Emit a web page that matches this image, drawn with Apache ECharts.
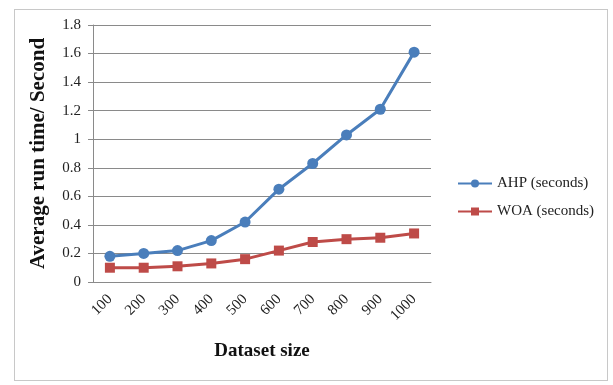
<!DOCTYPE html>
<html>
<head>
<meta charset="utf-8">
<script src="https://cdn.jsdelivr.net/npm/echarts@6/dist/echarts.min.js"></script>
<style>
  html, body { margin: 0; padding: 0; background: #fff; }
  #frame { position: absolute; left: 14px; top: 9px; width: 592px; height: 370px; border: 1px solid #c8c8c8; }
  #chart { width: 613px; height: 385px; }
</style>
</head>
<body>
<div id="frame"></div>
<div id="chart"></div>
<script>
// dataset sizes and run times
const sizes = ['100', '200', '300', '400', '500', '600', '700', '800', '900', '1000'];
const ahpSeconds = [0.18, 0.20, 0.22, 0.29, 0.42, 0.65, 0.83, 1.03, 1.21, 1.61];
const woaSeconds = [0.10, 0.10, 0.11, 0.13, 0.16, 0.22, 0.28, 0.30, 0.31, 0.34];

const chart = echarts.init(document.getElementById('chart'));
const serif = 'Liberation Serif';

chart.setOption({
  animation: false,
  grid: { left: 93, right: 182, top: 25, bottom: 103 },
  legend: {
    orient: 'vertical',
    left: 452,
    top: 171,
    itemGap: 13,
    itemWidth: 34,
    itemHeight: 10,
    textStyle: { fontFamily: serif, fontSize: 15, color: '#222' },
    data: ['AHP (seconds)', 'WOA (seconds)']
  },
  xAxis: {
    type: 'category',
    data: sizes,
    name: 'Dataset size',
    nameLocation: 'middle',
    nameGap: 60,
    nameTextStyle: { fontFamily: serif, fontSize: 19, fontWeight: 'bold', color: '#111' },
    axisLine: { lineStyle: { color: '#8a8a8a' } },
    axisTick: { alignWithLabel: false, length: 5, lineStyle: { color: '#8a8a8a' } },
    axisLabel: { rotate: 45, margin: 15, fontFamily: serif, fontSize: 15, color: '#222' }
  },
  yAxis: {
    type: 'value',
    min: 0,
    max: 1.8,
    interval: 0.2,
    name: 'Average run time/ Second',
    nameLocation: 'middle',
    nameGap: 44,
    nameTextStyle: { fontFamily: serif, fontSize: 21, fontWeight: 'bold', color: '#111' },
    axisLine: { show: true, lineStyle: { color: '#8a8a8a' } },
    axisTick: { show: true, length: 5, lineStyle: { color: '#8a8a8a' } },
    axisLabel: { margin: 12, fontFamily: serif, fontSize: 15, color: '#222',
      formatter: v => String(Math.round(v * 10) / 10) },
    splitLine: { lineStyle: { color: '#8a8a8a', width: 1 } }
  },
  series: [
    {
      name: 'AHP (seconds)',
      type: 'line',
      data: ahpSeconds,
      symbol: 'circle',
      symbolSize: 11,
      color: '#4a7ebb',
      lineStyle: { width: 3 }
    },
    {
      name: 'WOA (seconds)',
      type: 'line',
      data: woaSeconds,
      symbol: 'rect',
      symbolSize: 10,
      color: '#be4b48',
      lineStyle: { width: 3 }
    }
  ]
});
</script>
</body>
</html>
